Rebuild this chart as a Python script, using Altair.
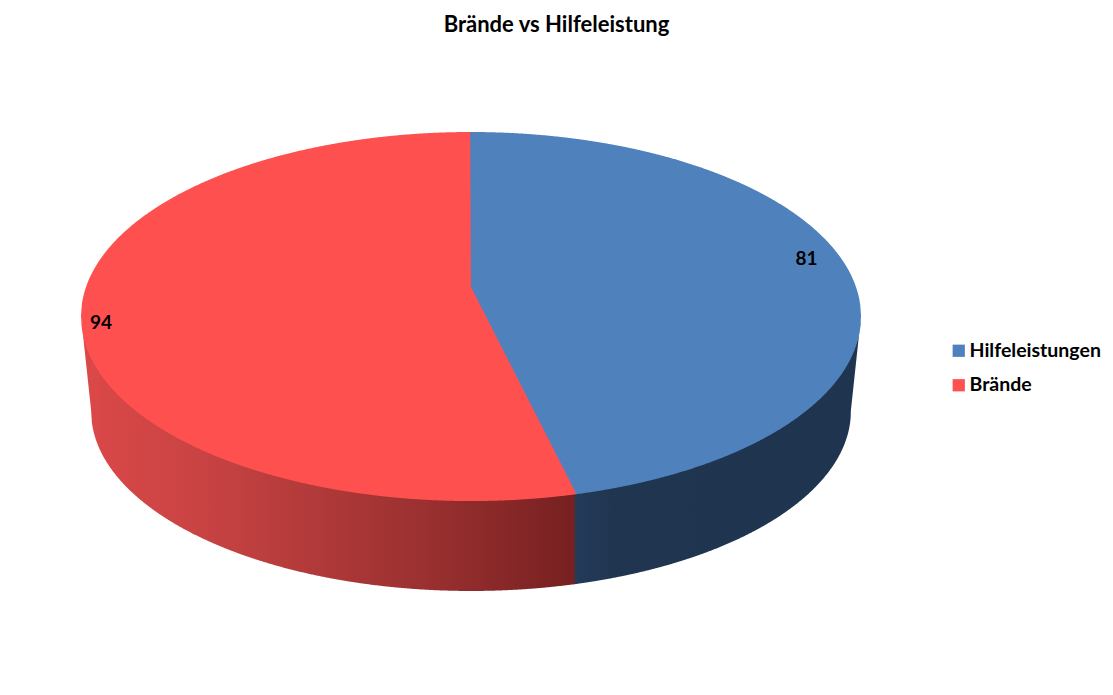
import numpy as np
import pandas as pd
import altair as alt

TITLE = "Brände vs Hilfeleistung"
SERIES = ["Hilfeleistungen", "Brände"]
VALUES = [81, 94]
COLORS = ["#4F81BD", "#FF5050"]
FONT = "Lato"

# Chart geometry, in picture pixels
W, H = 1097, 679
CX, APEX_Y = 471, 287
BASE_Y, BASE_K = 382.5, 0.974
A, B, P = 385.0, 179.8, -0.16


def project(theta, k=1.0, y0=APEX_Y):
    """Tilted disc: theta runs clockwise from the top of the pie."""
    u, v = np.sin(theta), -np.cos(theta)
    d = 1 + P * v
    return CX + k * A * u / d, y0 + k * B * v / d


split = 2 * np.pi * VALUES[0] / sum(VALUES)
theta = np.radians(np.arange(0, 360.01, 0.5))


def arcs(k, y0):
    x, y = project(theta, k, y0)
    right, left = int(np.argmax(x)), int(np.argmin(x))
    upper_i = np.r_[left:len(theta), 0:right + 1]
    lower_i = np.arange(right, left + 1)
    ux, uy = x[upper_i], y[upper_i]
    lx, ly = x[lower_i][::-1], y[lower_i][::-1]
    return (lambda q: np.interp(q, ux, uy)), (lambda q: np.interp(q, lx, ly)), x[left], x[right], y[left], y[right]


top_up, top_lo, xl, xr, yl, yr = arcs(1.0, APEX_Y)
base_up, base_lo, bxl, bxr, byl, byr = arcs(BASE_K, BASE_Y)
split_x, split_y = project(split)
base_split_x, base_split_y = project(split, BASE_K, BASE_Y)


def radial(q):
    return APEX_Y + (q - CX) * (split_y - APEX_Y) / (split_x - CX)


def base_edge(q):
    out = base_lo(q)
    out = np.where(q < bxl, yl + (q - xl) * (byl - yl) / (bxl - xl), out)
    out = np.where(q > bxr, yr + (q - xr) * (byr - yr) / (bxr - xr), out)
    return out


def grid(a, b, extra=()):
    g = np.linspace(a, b, 500)
    return np.unique(np.r_[g, [e for e in extra if a <= e <= b]])


# The blue face runs slightly under the red one so no seam shows between them
gx = grid(CX - 1, xr, [split_x])
blue = pd.DataFrame({
    "x": gx, "y": top_up(gx),
    "y2": np.where(gx < split_x, np.minimum(radial(gx) + 1.5, top_lo(gx)), top_lo(gx)),
    "s": SERIES[0],
})
gx = grid(xl, split_x, [CX])
red = pd.DataFrame({"x": gx, "y": np.where(gx < CX, top_up(gx), radial(gx)), "y2": top_lo(gx), "s": SERIES[1]})

mid = base_split_x + 1
gx = grid(xl, mid, [bxl])
side_red = pd.DataFrame({"x": gx, "y": top_lo(gx) - 2, "y2": base_edge(gx)})
gx = grid(mid - 1, xr, [bxr])
side_blue = pd.DataFrame({"x": gx, "y": top_lo(gx) - 2, "y2": base_edge(gx)})

labels = pd.DataFrame({"x": [806.5, 101], "y": [258.5, 322.5], "t": [str(v) for v in VALUES]})

X = alt.X("x:Q", axis=None, scale=alt.Scale(domain=[8, 8 + W], nice=False, zero=False))
Y = alt.Y("y:Q", axis=None, stack=None, scale=alt.Scale(domain=[8, 8 + H], reverse=True, nice=False, zero=False))
Y2 = alt.Y2("y2:Q")


def gradient(stops):
    return alt.Gradient(
        gradient="linear", x1=0, x2=1, y1=0, y2=0,
        stops=[alt.GradientStop(offset=o, color=c) for o, c in stops],
    )


red_side = alt.Chart(side_red).mark_area(
    color=gradient([(0, "#DC4848"), (0.25, "#C84343"), (0.7, "#9A3030"), (1, "#772021")])
).encode(x=X, y=Y, y2=Y2)
blue_side = alt.Chart(side_blue).mark_area(
    color=gradient([(0, "#233B5A"), (0.15, "#20354F"), (1, "#1F344E")])
).encode(x=X, y=Y, y2=Y2)

COLOR = alt.Color(
    "s:N",
    scale=alt.Scale(domain=SERIES, range=COLORS),
    legend=alt.Legend(
        title=None, orient="none", legendX=941, legendY=333, symbolType="square",
        symbolSize=150, symbolOpacity=1, labelFont=FONT, labelFontSize=19.5, labelFontWeight="bold",
        labelColor="#000000", rowPadding=13.5, labelOffset=1, labelLimit=200,
    ),
)
blue_face = alt.Chart(blue).mark_area().encode(x=X, y=Y, y2=Y2, color=COLOR)
red_face = alt.Chart(red).mark_area().encode(x=X, y=Y, y2=Y2, color=COLOR)
text = alt.Chart(labels).mark_text(font=FONT, fontSize=19, fontWeight="bold", color="#000000").encode(
    x=X, y=Y, text="t:N"
)

chart = alt.layer(blue_side, red_side, blue_face, red_face, text).properties(
    width=W, height=H,
    autosize=alt.AutoSizeParams(type="none"),
    padding=0,
    background="#FFFFFF",
    title=alt.TitleParams(
        TITLE, anchor="middle", font=FONT, fontSize=22, fontWeight="bold", color="#000000",
        baseline="top", offset=0, dy=29,
    ),
).configure_view(stroke=None)

chart.save("out.html", embed_options={"renderer": "svg", "actions": False})
